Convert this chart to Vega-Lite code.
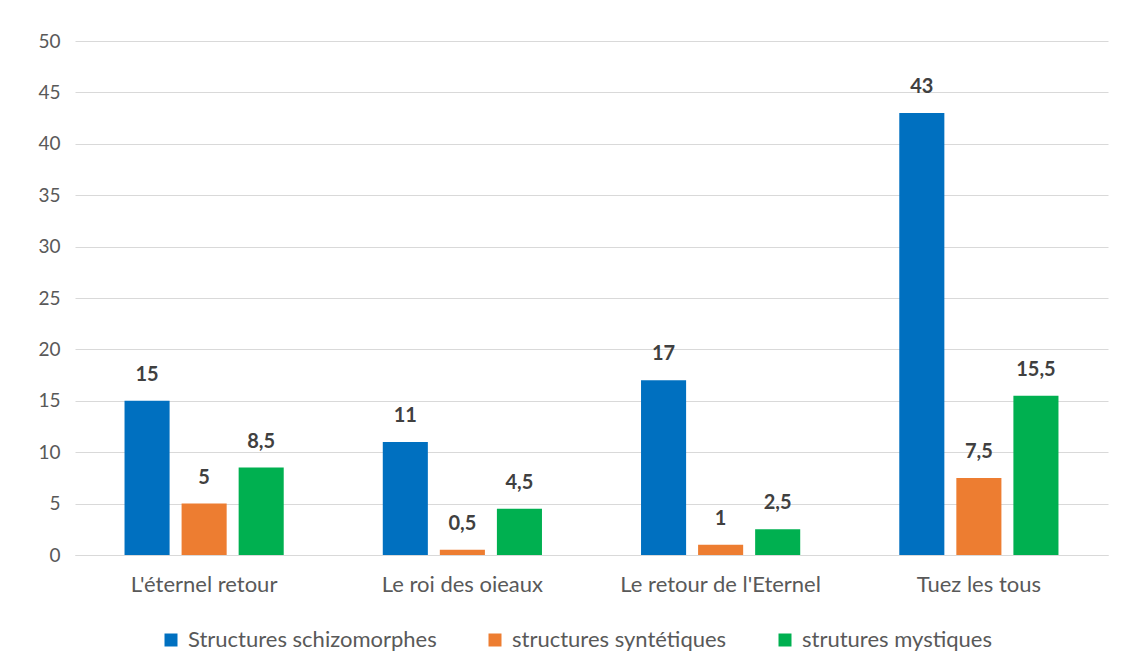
{
  "$schema": "https://vega.github.io/schema/vega-lite/v6.json",
  "autosize": {"type": "none"},
  "width": 1033,
  "height": 514,
  "padding": {"left": 75, "top": 41, "right": 18, "bottom": 115},
  "background": "white",
  "config": {
    "font": "Lato",
    "view": {"stroke": null},
    "locale": {
      "number": {"decimal": ",", "thousands": " ", "grouping": [3], "currency": ["", " €"]}
    }
  },
  "data": {
    "values": [
      {"oeuvre": "L'éternel retour", "structure": "Structures schizomorphes", "valeur": 15},
      {"oeuvre": "L'éternel retour", "structure": "structures syntétiques", "valeur": 5},
      {"oeuvre": "L'éternel retour", "structure": "strutures mystiques", "valeur": 8.5},
      {"oeuvre": "Le roi des oieaux", "structure": "Structures schizomorphes", "valeur": 11},
      {"oeuvre": "Le roi des oieaux", "structure": "structures syntétiques", "valeur": 0.5},
      {"oeuvre": "Le roi des oieaux", "structure": "strutures mystiques", "valeur": 4.5},
      {"oeuvre": "Le retour de l'Eternel", "structure": "Structures schizomorphes", "valeur": 17},
      {"oeuvre": "Le retour de l'Eternel", "structure": "structures syntétiques", "valeur": 1},
      {"oeuvre": "Le retour de l'Eternel", "structure": "strutures mystiques", "valeur": 2.5},
      {"oeuvre": "Tuez les tous", "structure": "Structures schizomorphes", "valeur": 43},
      {"oeuvre": "Tuez les tous", "structure": "structures syntétiques", "valeur": 7.5},
      {"oeuvre": "Tuez les tous", "structure": "strutures mystiques", "valeur": 15.5}
    ]
  },
  "encoding": {
    "x": {
      "field": "oeuvre",
      "type": "nominal",
      "sort": null,
      "scale": {"paddingInner": 0, "paddingOuter": 0},
      "axis": {
        "title": null,
        "labelAngle": 0,
        "labelFontSize": 22,
        "labelColor": "#595959",
        "labelPadding": 19,
        "labelLimit": 400,
        "ticks": false,
        "domainColor": "#d9d9d9",
        "domainWidth": 1
      }
    },
    "xOffset": {
      "field": "structure",
      "type": "nominal",
      "scale": {
        "domain": ["Structures schizomorphes", "structures syntétiques", "strutures mystiques"],
        "paddingInner": 0.21,
        "paddingOuter": 0.868
      }
    },
    "y": {
      "field": "valeur",
      "type": "quantitative",
      "scale": {"domain": [0, 50], "nice": false},
      "axis": {
        "title": null,
        "values": [0, 5, 10, 15, 20, 25, 30, 35, 40, 45, 50],
        "labelFontSize": 19,
        "labelColor": "#595959",
        "labelPadding": 15,
        "ticks": false,
        "domain": false,
        "gridColor": "#d9d9d9",
        "gridWidth": 1
      }
    }
  },
  "layer": [
    {
      "mark": {"type": "bar"},
      "encoding": {
        "color": {
          "field": "structure",
          "type": "nominal",
          "scale": {
            "domain": ["Structures schizomorphes", "structures syntétiques", "strutures mystiques"],
            "range": ["#0070C0", "#ED7D31", "#00B050"]
          },
          "legend": {
            "title": null,
            "orient": "none",
            "direction": "horizontal",
            "legendX": 85,
            "legendY": 588,
            "symbolType": "square",
            "symbolSize": 169,
            "symbolStrokeWidth": 0,
            "symbolOpacity": 1,
            "labelFontSize": 22,
            "labelColor": "#595959",
            "labelOffset": 6,
            "columnPadding": 47,
            "labelLimit": 400
          }
        }
      }
    },
    {
      "mark": {
        "type": "text",
        "baseline": "bottom",
        "dy": -16,
        "fontSize": 20,
        "fontWeight": "bold",
        "color": "#404040"
      },
      "encoding": {
        "text": {"field": "valeur", "type": "quantitative", "format": ".1~f"}
      }
    }
  ]
}
